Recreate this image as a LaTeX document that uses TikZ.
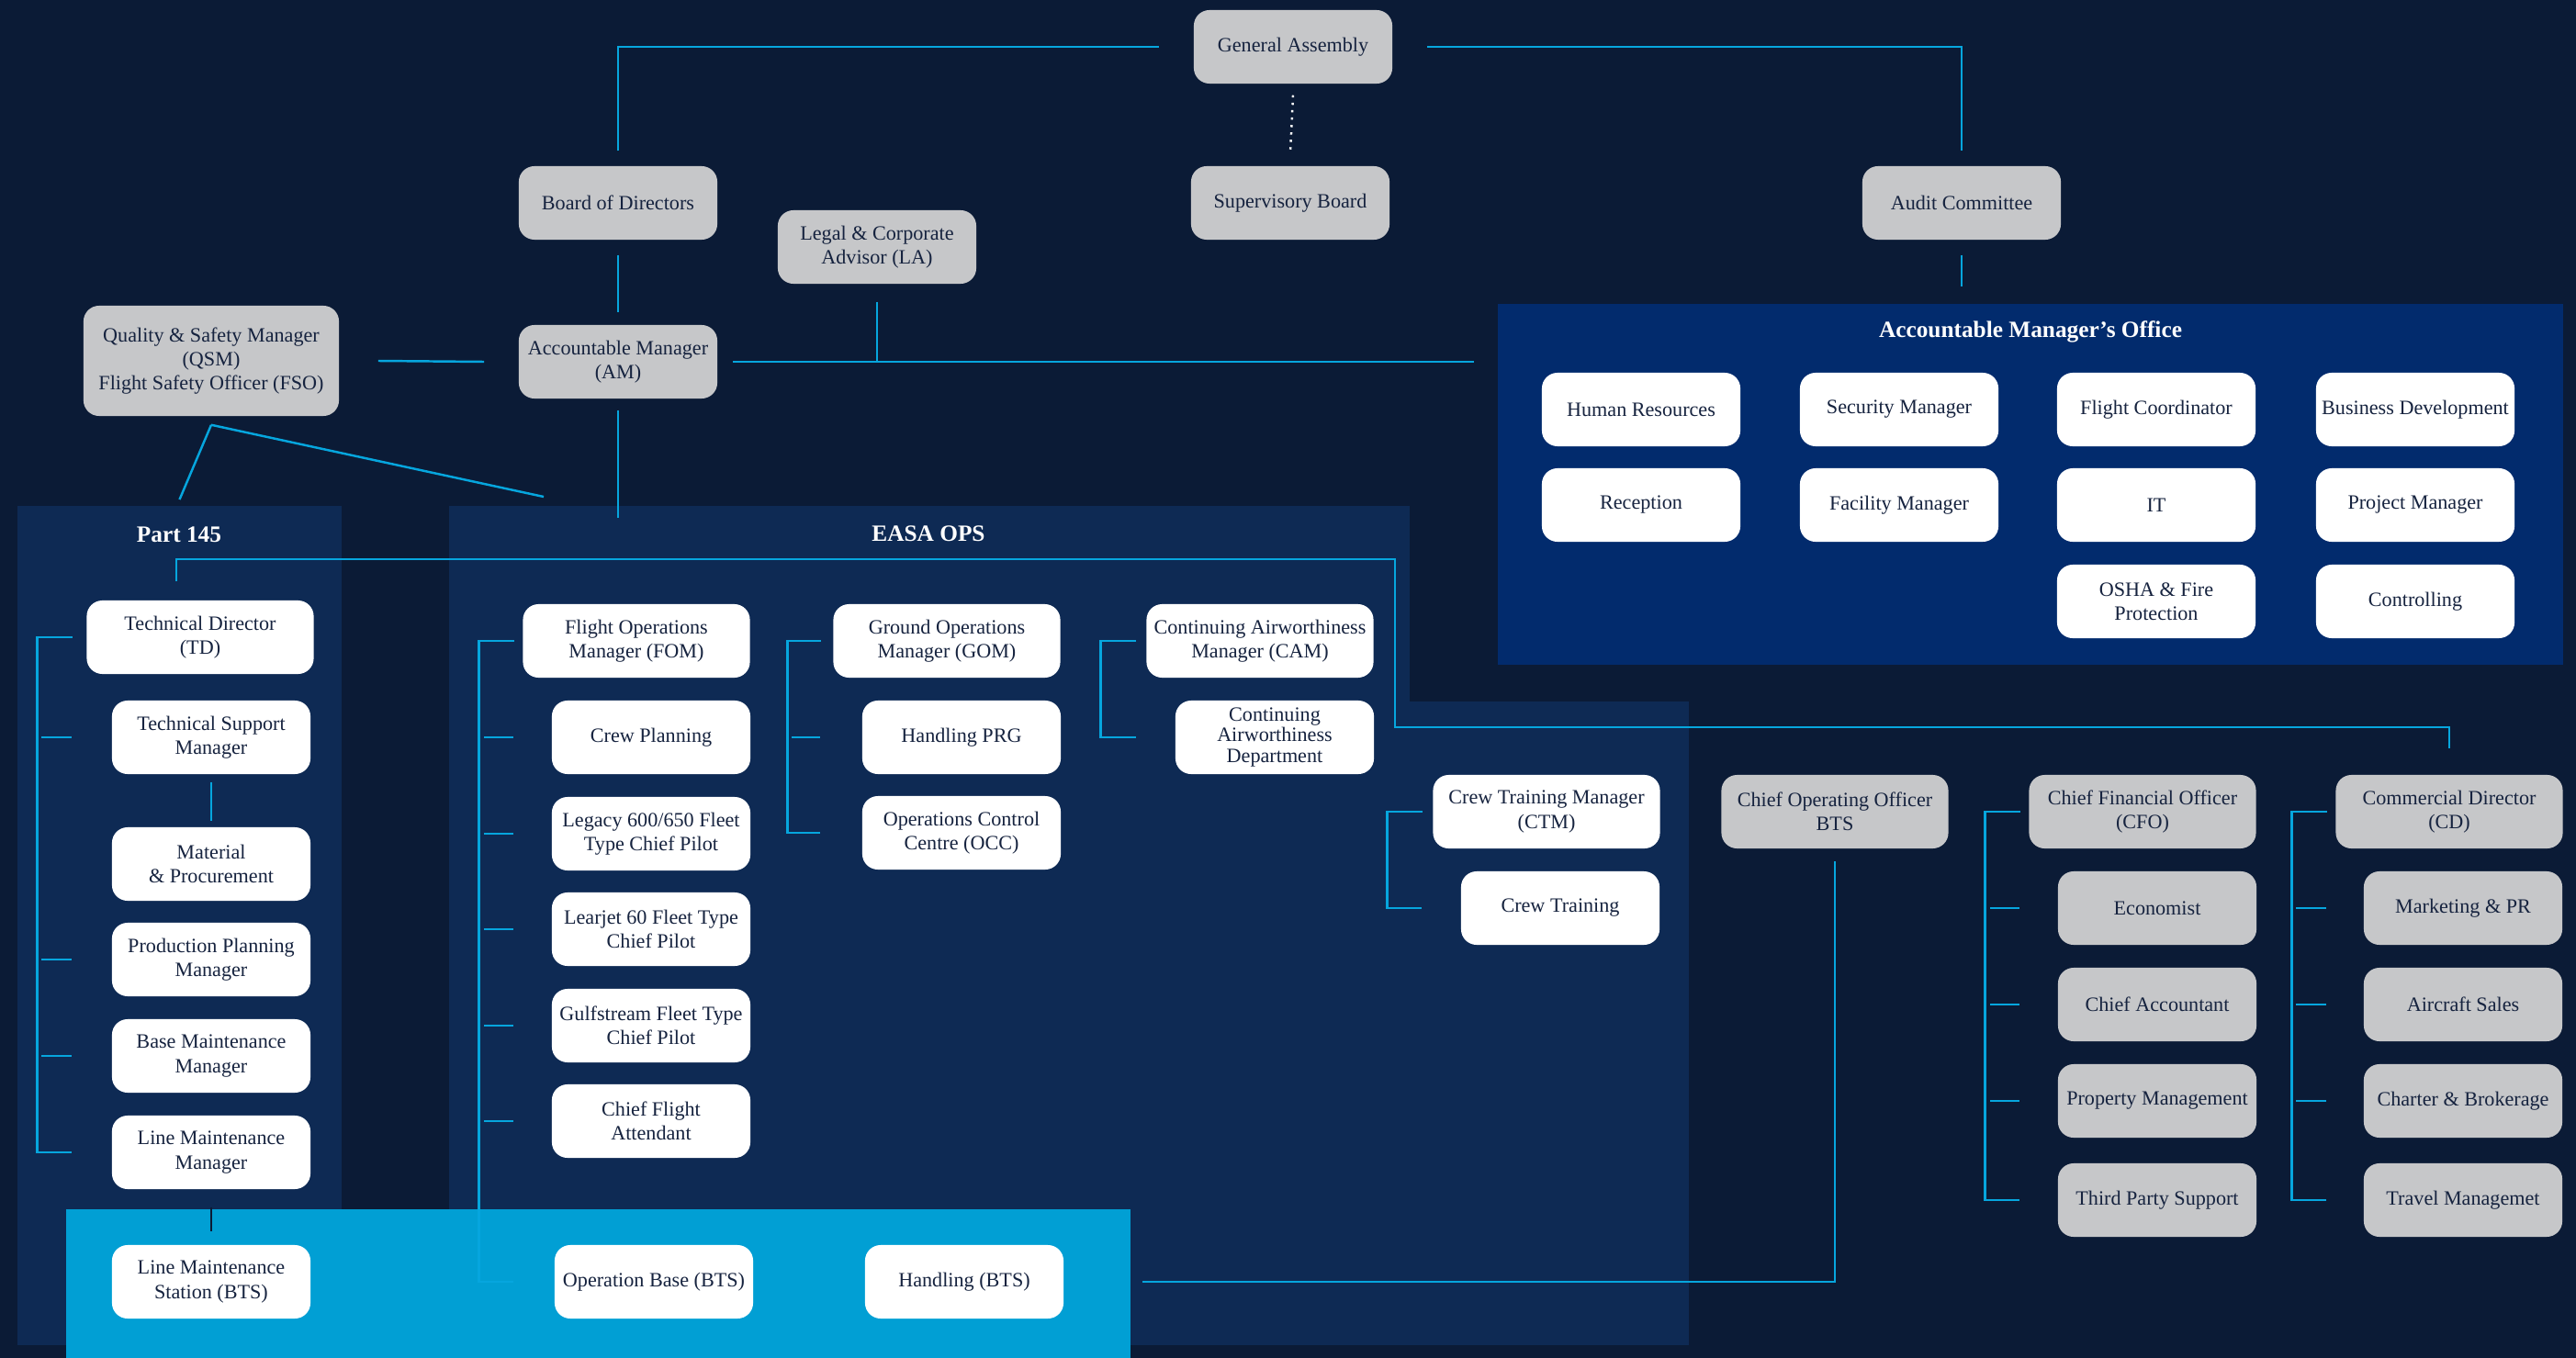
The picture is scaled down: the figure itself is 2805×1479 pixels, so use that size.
\documentclass[tikz,border=0pt]{standalone}
\usepackage{fontspec}
\setmainfont{Liberation Serif}
\usetikzlibrary{positioning,calc}

\definecolor{bgnavy}{HTML}{0B1B36}
\definecolor{panelblue}{HTML}{0E2A54}
\definecolor{officeblue}{HTML}{022B6D}
\definecolor{btsblue}{HTML}{019FD4}
\definecolor{linkcyan}{HTML}{06A6DE}
\definecolor{boxgrey}{HTML}{C6C7C9}
\definecolor{textnavy}{HTML}{16233F}

\begin{document}
\begin{tikzpicture}[x=0.01cm, y=-0.01cm,
    box/.style={rectangle, rounded corners=0.17cm, minimum width=2.16cm, minimum height=0.8cm,
      inner sep=1pt, align=center, text=textnavy, font=\fontsize{6.3}{7.5}\selectfont},
    greybox/.style={box, fill=boxgrey},
    whitebox/.style={box, fill=white},
    wide/.style={minimum width=2.47cm},
    panel/.style={rectangle, inner sep=0pt, fill=panelblue},
    title/.style={text=white, font=\fontsize{7.2}{8}\selectfont\bfseries},
    link/.style={draw=linkcyan, line width=0.7pt},
    dotlink/.style={draw=white, line width=0.7pt, dash pattern=on 0.7pt off 1.6pt}
  ]
  \useasboundingbox (0,0) rectangle (2805,1479);
  \fill[bgnavy] (0,0) rectangle (2805,1479);

  \node[panel, minimum width=3.53cm, minimum height=9.14cm] (p145) at (195.5,1008) {};
  \node[panel, minimum width=10.46cm, minimum height=9.14cm] (easa) at (1012,1008) {};
  \fill[panelblue] (1535,764) rectangle (1839,1465);
  \node[panel, fill=officeblue, minimum width=11.6cm, minimum height=3.93cm] (amo) at (2211,527.5) {};
  \fill[btsblue] (72,1317) rectangle (1231,1479);

  \node[title] (t145) at (195,582) {Part 145};
  \node[title] (teasa) at (1011,581) {EASA OPS};
  \node[title] (tamo) at (2211,361) {Accountable Manager’s Office};

  \node[greybox] (ga) at (1408,51) {General Assembly};
  \node[greybox] (sb) at (1405,221) {Supervisory Board};
  \node[greybox] (bod) at (673,221) {Board of Directors};
  \node[greybox] (ac) at (2136,221) {Audit Committee};
  \node[greybox] (la) at (955,269) {Legal \& Corporate\\Advisor (LA)};
  \node[greybox] (am) at (673,394) {Accountable Manager\\(AM)};
  \node[greybox, minimum width=2.78cm, minimum height=1.2cm] (qsm) at (230,393)
    {Quality \& Safety Manager\\(QSM)\\Flight Safety Officer (FSO)};

  \node[whitebox] (hr) at (1787,446) {Human Resources};
  \node[whitebox] (sec) at (2068,446) {Security Manager};
  \node[whitebox] (fc) at (2348,446) {Flight Coordinator};
  \node[whitebox] (bd) at (2630,446) {Business Development};
  \node[whitebox] (rec) at (1787,550) {Reception};
  \node[whitebox] (fm) at (2068,550) {Facility Manager};
  \node[whitebox] (it) at (2348,550) {IT};
  \node[whitebox] (pm) at (2630,550) {Project Manager};
  \node[whitebox] (osha) at (2348,655) {OSHA \& Fire\\Protection};
  \node[whitebox] (ctrl) at (2630,655) {Controlling};

  \node[whitebox, wide] (td) at (218,694) {Technical Director\\(TD)};
  \node[whitebox] (tsm) at (230,803) {Technical Support\\Manager};
  \node[whitebox] (mp) at (230,941) {Material\\\& Procurement};
  \node[whitebox] (ppm) at (230,1045) {Production Planning\\Manager};
  \node[whitebox] (bmm) at (230,1150) {Base Maintenance\\Manager};
  \node[whitebox] (lmm) at (230,1255) {Line Maintenance\\Manager};
  \node[whitebox] (lms) at (230,1396) {Line Maintenance\\Station (BTS)};

  \node[whitebox, wide] (fom) at (693,698) {Flight Operations\\Manager (FOM)};
  \node[whitebox] (cp) at (709,803) {Crew Planning};
  \node[whitebox] (leg) at (709,908) {Legacy 600/650 Fleet\\Type Chief Pilot};
  \node[whitebox] (lear) at (709,1012) {Learjet 60 Fleet Type\\Chief Pilot};
  \node[whitebox] (gulf) at (709,1117) {Gulfstream Fleet Type\\Chief Pilot};
  \node[whitebox] (cfa) at (709,1221) {Chief Flight\\Attendant};
  \node[whitebox] (ob) at (712,1396) {Operation Base (BTS)};

  \node[whitebox, wide] (gom) at (1031,698) {Ground Operations\\Manager (GOM)};
  \node[whitebox] (hprg) at (1047,803) {Handling PRG};
  \node[whitebox] (occ) at (1047,907) {Operations Control\\Centre (OCC)};
  \node[whitebox] (hbts) at (1050,1396) {Handling (BTS)};

  \node[whitebox, wide] (cam) at (1372,698) {Continuing Airworthiness\\Manager (CAM)};
  \node[whitebox, font=\fontsize{6.3}{6.4}\selectfont] (cad) at (1388,803)
    {Continuing\\Airworthiness\\Department};

  \node[whitebox, wide] (ctm) at (1684,884) {Crew Training Manager\\(CTM)};
  \node[whitebox] (ct) at (1699,989) {Crew Training};

  \node[greybox, wide] (coo) at (1998,884) {Chief Operating Officer\\BTS};
  \node[greybox, wide] (cfo) at (2333,884) {Chief Financial Officer\\(CFO)};
  \node[greybox] (eco) at (2349,989) {Economist};
  \node[greybox] (acc) at (2349,1094) {Chief Accountant};
  \node[greybox] (prop) at (2349,1199) {Property Management};
  \node[greybox] (tps) at (2349,1307) {Third Party Support};
  \node[greybox, wide] (cd) at (2667,884) {Commercial Director\\(CD)};
  \node[greybox] (mkt) at (2682,989) {Marketing \& PR};
  \node[greybox] (sales) at (2682,1094) {Aircraft Sales};
  \node[greybox] (chart) at (2682,1199) {Charter \& Brokerage};
  \node[greybox] (travel) at (2682,1307) {Travel Managemet};

  \draw[link] ([yshift=0.16cm]bod.north) |- ([xshift=-0.37cm]ga.west);
  \draw[link] ([xshift=0.37cm]ga.east) -| ([yshift=0.16cm]ac.north);
  \draw[dotlink] ([yshift=-0.12cm]ga.south) -- ([yshift=0.14cm]sb.north);
  \draw[link] ([yshift=-0.16cm]bod.south) -- ([yshift=0.13cm]am.north);
  \draw[link] ([xshift=-0.37cm]am.west) -- ([xshift=0.42cm]qsm.east);
  \draw[link] ([xshift=0.16cm]am.east) -- ($(amo.west |- am.east)+(-0.25cm,0)$);
  \draw[link] ([yshift=-0.19cm]la.south) -- (la.south |- am.east);
  \draw[link] ([yshift=-0.16cm]ac.south) -- ($(ac.south |- amo.north)+(0,0.18cm)$);
  \draw[link] ([yshift=-0.09cm]qsm.south) -- ([yshift=0.06cm]p145.north);
  \draw[link] ([yshift=-0.09cm]qsm.south) -- ($(easa.north west)+(1.04cm,0.09cm)$);
  \draw[link] ([yshift=-0.12cm]am.south) -- ($(am.south |- easa.north)+(0,-0.14cm)$);

  \coordinate (bend) at (1519,792);
  \draw[link] ([xshift=-0.26cm,yshift=0.2cm]td.north) -- ++(0,0.24cm) -| (bend) -| ([yshift=0.28cm]cd.north);

  \draw[link] ([xshift=-0.15cm]td.west) -- ([xshift=-0.53cm]td.west) |- ([xshift=-0.43cm]lmm.west);
  \foreach \n in {tsm,ppm,bmm}
    \draw[link] ([xshift=-0.76cm]\n.west) -- ([xshift=-0.43cm]\n.west);
  \draw[link] ([yshift=-0.08cm]tsm.south) -- ([yshift=0.06cm]mp.north);
  \draw[bgnavy, line width=0.7pt] ([yshift=-0.19cm]lmm.south) -- ([yshift=0.14cm]lms.north);

  \draw[link] ([xshift=-0.09cm]fom.west) -- ([xshift=-0.47cm]fom.west) |- ([xshift=-0.44cm]ob.west);
  \foreach \n in {cp,leg,lear,gulf,cfa}
    \draw[link] ([xshift=-0.73cm]\n.west) -- ([xshift=-0.41cm]\n.west);

  \draw[link] ([xshift=-0.13cm]gom.west) -- ([xshift=-0.49cm]gom.west) |- ([xshift=-0.45cm]occ.west);
  \draw[link] ([xshift=-0.76cm]hprg.west) -- ([xshift=-0.45cm]hprg.west);

  \draw[link] ([xshift=-0.11cm]cam.west) -- ([xshift=-0.49cm]cam.west) |- ([xshift=-0.42cm]cad.west);
  \draw[link] ([xshift=-0.11cm]ctm.west) -- ([xshift=-0.49cm]ctm.west) |- ([xshift=-0.42cm]ct.west);

  \draw[link] ([xshift=0.85cm]hbts.east) -| ([yshift=-0.13cm]coo.south);

  \draw[link] ([xshift=-0.09cm]cfo.west) -- ([xshift=-0.47cm]cfo.west) |- ([xshift=-0.41cm]tps.west);
  \foreach \n in {eco,acc,prop}
    \draw[link] ([xshift=-0.73cm]\n.west) -- ([xshift=-0.41cm]\n.west);
  \draw[link] ([xshift=-0.09cm]cd.west) -- ([xshift=-0.47cm]cd.west) |- ([xshift=-0.40cm]travel.west);
  \foreach \n in {mkt,sales,chart}
    \draw[link] ([xshift=-0.73cm]\n.west) -- ([xshift=-0.40cm]\n.west);
\end{tikzpicture}
\end{document}
